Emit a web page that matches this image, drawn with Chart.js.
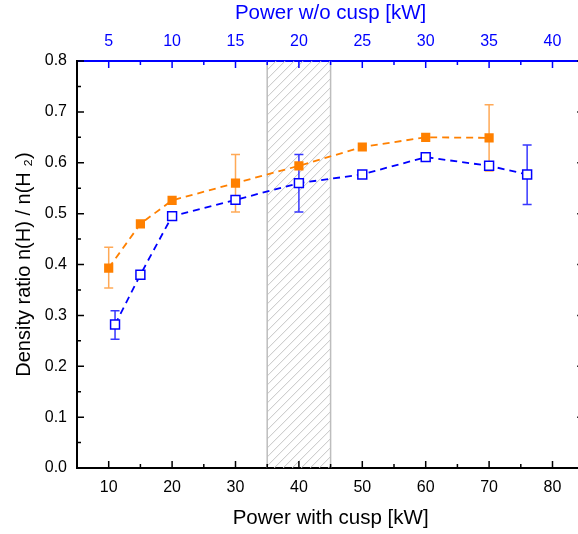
<!DOCTYPE html>
<html>
<head>
<meta charset="utf-8">
<script src="https://cdn.jsdelivr.net/npm/chart.js@4/dist/chart.umd.min.js"></script>
<style>
html,body{margin:0;padding:0;background:#fff;overflow:hidden;}
canvas{display:block;}
</style>
</head>
<body>
<canvas id="c" width="592" height="534"></canvas>
<script>
// ---- data ----
const xOrange = [10, 15, 20, 30, 40, 50, 60, 70];
const yOrange = [0.393, 0.480, 0.526, 0.560, 0.594, 0.631, 0.650, 0.649];
const errOrangeLo = [0.354, null, null, 0.503, null, null, null, 0.584];
const errOrangeHi = [0.434, null, null, 0.616, null, null, null, 0.714];

const xBlue = [11, 15, 20, 30, 40, 50, 60, 70, 76];
const yBlue = [0.282, 0.380, 0.495, 0.527, 0.560, 0.577, 0.611, 0.594, 0.577];
const errBlueLo = [0.253, null, null, null, 0.503, null, null, null, 0.518];
const errBlueHi = [0.309, null, null, null, 0.616, null, null, null, 0.635];

const bottomTicks = [10, 20, 30, 40, 50, 60, 70, 80];
const bottomMinor = [15, 25, 35, 45, 55, 65, 75];
const topTicks = [5, 10, 15, 20, 25, 30, 35, 40];
const topMinor = [7.5, 12.5, 17.5, 22.5, 27.5, 32.5, 37.5];
const yTicks = [0.0, 0.1, 0.2, 0.3, 0.4, 0.5, 0.6, 0.7, 0.8];
const yMinor = [0.05, 0.15, 0.25, 0.35, 0.45, 0.55, 0.65, 0.75];
const hatchRange = [35, 45];
const xRange = [5, 85];
const yRange = [0, 0.8];

const ORANGE = '#ff8000';
const BLUE = '#0000ff';
const FONT = '"Liberation Sans", Arial, sans-serif';

const toPts = (xs, ys) => xs.map((x, i) => ({x: x, y: ys[i]}));

const hatchPlugin = {
  id: 'hatch',
  beforeDatasetsDraw(chart) {
    const {ctx, chartArea, scales} = chart;
    const x0 = scales.x.getPixelForValue(hatchRange[0]);
    const x1 = scales.x.getPixelForValue(hatchRange[1]);
    const top = chartArea.top, bot = chartArea.bottom;
    ctx.save();
    ctx.beginPath();
    ctx.rect(x0, top, x1 - x0, bot - top);
    ctx.clip();
    ctx.strokeStyle = '#c4c4c4';
    ctx.lineWidth = 1;
    const H = bot - top;
    for (let k = -H; k < (x1 - x0) + 10; k += 9) {
      ctx.beginPath();
      ctx.moveTo(x0 + k, bot);
      ctx.lineTo(x0 + k + H, top);
      ctx.stroke();
    }
    ctx.restore();
    ctx.save();
    ctx.strokeStyle = '#bdbdbd';
    ctx.lineWidth = 1.5;
    ctx.beginPath();
    ctx.moveTo(x0, top); ctx.lineTo(x0, bot);
    ctx.moveTo(x1, top); ctx.lineTo(x1, bot);
    ctx.stroke();
    ctx.restore();

    // error bars
    const drawErr = (xs, lo, hi, color) => {
      ctx.save();
      ctx.strokeStyle = color;
      ctx.lineWidth = 1.5;
      xs.forEach((x, i) => {
        if (lo[i] == null) return;
        const px = scales.x.getPixelForValue(x);
        const pl = scales.y.getPixelForValue(lo[i]);
        const ph = scales.y.getPixelForValue(hi[i]);
        ctx.beginPath();
        ctx.moveTo(px, pl); ctx.lineTo(px, ph);
        ctx.moveTo(px - 4.5, pl); ctx.lineTo(px + 4.5, pl);
        ctx.moveTo(px - 4.5, ph); ctx.lineTo(px + 4.5, ph);
        ctx.stroke();
      });
      ctx.restore();
    };
    drawErr(xOrange, errOrangeLo, errOrangeHi, 'rgba(255,140,30,0.75)');
    drawErr(xBlue, errBlueLo, errBlueHi, 'rgba(20,20,255,0.85)');
  },
  afterDraw(chart) {
    const {ctx, chartArea, scales} = chart;
    const {left, right, top, bottom} = chartArea;
    ctx.save();
    ctx.lineWidth = 1.5;
    ctx.strokeStyle = '#000';
    ctx.beginPath();
    bottomTicks.forEach(v => { const p = scales.x.getPixelForValue(v); ctx.moveTo(p, bottom); ctx.lineTo(p, bottom - 7); });
    bottomMinor.forEach(v => { const p = scales.x.getPixelForValue(v); ctx.moveTo(p, bottom); ctx.lineTo(p, bottom - 4); });
    yTicks.forEach(v => { const p = scales.y.getPixelForValue(v); ctx.moveTo(left, p); ctx.lineTo(left + 7, p); ctx.moveTo(right, p); ctx.lineTo(right - 7, p); });
    yMinor.forEach(v => { const p = scales.y.getPixelForValue(v); ctx.moveTo(left, p); ctx.lineTo(left + 4, p); ctx.moveTo(right, p); ctx.lineTo(right - 4, p); });
    ctx.stroke();
    ctx.strokeStyle = BLUE;
    ctx.beginPath();
    topTicks.forEach(v => { const p = scales.x2.getPixelForValue(v); ctx.moveTo(p, top); ctx.lineTo(p, top + 7); });
    topMinor.forEach(v => { const p = scales.x2.getPixelForValue(v); ctx.moveTo(p, top); ctx.lineTo(p, top + 4); });
    ctx.stroke();
    ctx.strokeStyle = '#000';
    ctx.lineWidth = 2;
    ctx.beginPath(); ctx.moveTo(right, top); ctx.lineTo(right, bottom); ctx.stroke();
    ctx.restore();
  }
};

new Chart(document.getElementById('c'), {
  type: 'line',
  data: {
    datasets: [
      {
        label: 'with cusp',
        data: toPts(xOrange, yOrange),
        borderColor: ORANGE,
        backgroundColor: ORANGE,
        borderWidth: 1.8,
        borderDash: [7, 5],
        pointStyle: 'rect',
        pointRadius: 6.5,
        pointBackgroundColor: ORANGE,
        pointBorderColor: ORANGE,
        pointBorderWidth: 0,
        fill: false,
        tension: 0
      },
      {
        label: 'w/o cusp',
        data: toPts(xBlue, yBlue),
        borderColor: BLUE,
        backgroundColor: '#fff',
        borderWidth: 1.8,
        borderDash: [7, 5],
        pointStyle: 'rect',
        pointRadius: 6.3,
        pointBackgroundColor: '#fff',
        pointBorderColor: BLUE,
        pointBorderWidth: 1.5,
        fill: false,
        tension: 0
      }
    ]
  },
  options: {
    responsive: false,
    animation: false,
    layout: {padding: {left: 0, right: 7, top: 0, bottom: 0}},
    plugins: {legend: {display: false}, tooltip: {enabled: false}},
    scales: {
      x: {
        type: 'linear', position: 'bottom', min: xRange[0], max: xRange[1],
        afterFit: s => { s.height = 66; },
        afterBuildTicks: s => { s.ticks = bottomTicks.map(v => ({value: v})); },
        grid: {display: false, drawTicks: false},
        border: {display: true, color: '#000', width: 2},
        ticks: {color: '#000', font: {family: FONT, size: 16}, padding: 10, maxRotation: 0},
        title: {display: true, text: 'Power with cusp [kW]', color: '#000', font: {family: FONT, size: 20.5}, padding: {top: 0, bottom: 3}}
      },
      x2: {
        type: 'linear', position: 'top', min: xRange[0] / 2, max: xRange[1] / 2,
        afterFit: s => { s.height = 61; },
        afterBuildTicks: s => { s.ticks = topTicks.map(v => ({value: v})); },
        grid: {display: false, drawTicks: false},
        border: {display: true, color: BLUE, width: 2},
        ticks: {color: BLUE, font: {family: FONT, size: 16}, padding: 10, maxRotation: 0},
        title: {display: true, text: 'Power w/o cusp [kW]', color: BLUE, font: {family: FONT, size: 20.5}, padding: {top: 1, bottom: 0}}
      },
      y: {
        type: 'linear', position: 'left', min: yRange[0], max: yRange[1],
        afterFit: s => { s.width = 77; },
        afterBuildTicks: s => { s.ticks = yTicks.map(v => ({value: v})); },
        grid: {display: false, drawTicks: false},
        border: {display: true, color: '#000', width: 2},
        ticks: {color: '#000', font: {family: FONT, size: 16}, padding: 10, callback: v => v.toFixed(1)},
        title: {display: true, text: 'Density ratio n(H) / n(H \u2082)', color: '#000', font: {family: FONT, size: 20}, padding: {top: 12, bottom: 0}}
      }
    }
  },
  plugins: [hatchPlugin]
});
</script>
</body>
</html>
